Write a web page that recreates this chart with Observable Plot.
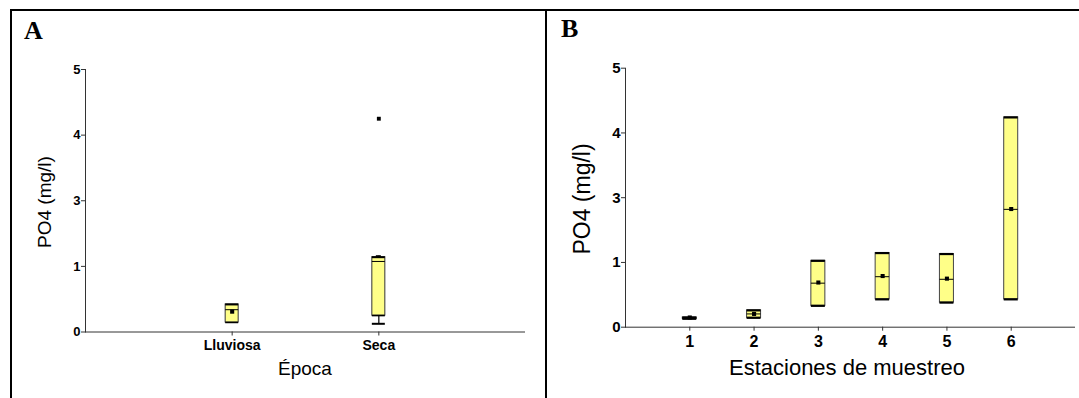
<!DOCTYPE html>
<html>
<head>
<meta charset="utf-8">
<script src="https://cdn.jsdelivr.net/npm/d3@7"></script>
<script src="https://cdn.jsdelivr.net/npm/@observablehq/plot@0.6"></script>
<style>
  html, body { margin: 0; padding: 0; background: #fff; }
  #wrap { position: relative; width: 1079px; height: 398px; overflow: hidden; background: #fff;
          font-family: "Liberation Sans", Arial, sans-serif; color: #000; }
  .frame { position: absolute; left: 10px; top: 9px; width: 1100px; height: 420px;
           border-top: 2px solid #000; border-left: 2px solid #000; }
  .divider { position: absolute; left: 545px; top: 9px; width: 2px; height: 420px; background: #000; }
  .panel { position: absolute; top: 0; }
  .letter { position: absolute; font-family: "Liberation Serif", "Times New Roman", serif; font-weight: bold;
            font-size: 26px; line-height: 1; }
  .t { position: absolute; white-space: nowrap; transform: translate(-50%, -50%); line-height: 1; }
  .rot { transform: translate(-50%, -50%) rotate(-90deg); }
  #err { position: absolute; left: 100px; top: 100px; color: red; font-size: 12px; }
</style>
</head>
<body>
<div id="wrap">
  <div class="frame"></div>
  <div class="divider"></div>
  <div id="pa" class="panel" style="left:0"></div>
  <div id="pb" class="panel" style="left:545px"></div>
  <div class="letter" style="left:24px; top:18px">A</div>
  <div class="letter" style="left:561px; top:16px">B</div>
  <div class="t rot" style="left:44px; top:202px; font-size:19px">PO4 (mg/l)</div>
  <div class="t" style="left:305px; top:368px; font-size:19px">Época</div>
  <div class="t rot" style="left:582px; top:199px; font-size:23px">PO4 (mg/l)</div>
  <div class="t" style="left:847px; top:368px; font-size:22px">Estaciones de muestreo</div>
  <div id="err"></div>
</div>
<script>
// ---------- Data ----------
// Panel A: by season
const epocas = ["Lluviosa", "Seca"];
const aLow    = [0.145, 0.125];   // lower whisker
const aQ1     = [0.145, 0.25];
const aMedian = [0.34, 1.15];
const aQ3     = [0.42, 1.28];
const aHigh   = [0.42, 1.31];     // upper whisker
const aMean   = [0.31, null];
const outlierEpoca = ["Seca"];
const outlierValue = [4.25];

// Panel B: by sampling station (min–max bars, median, mean)
const estaciones = ["1", "2", "3", "4", "5", "6"];
const bMin    = [0.13, 0.145, 0.33, 0.43, 0.38, 0.43];
const bMax    = [0.15, 0.26, 1.05, 1.29, 1.26, 4.24];
const bMedian = [0.14, 0.205, 0.68, 0.78, 0.74, 2.64];
const bMean   = [0.15, 0.205, 0.69, 0.79, 0.75, 2.65];

// y axis labels (broken axis: 0, 1, 3, 4, 5)
const yTicks = [0, 1, 3, 4, 5];

// ---------- Tables ----------
const rowsA = epocas.map((e, i) => ({epoca: e, lo: aLow[i], q1: aQ1[i], med: aMedian[i], q3: aQ3[i], hi: aHigh[i], mean: aMean[i]}));
const outA = outlierEpoca.map((e, i) => ({epoca: e, value: outlierValue[i]}));
const rowsB = estaciones.map((s, i) => ({est: s, min: bMin[i], max: bMax[i], med: bMedian[i], mean: bMean[i]}));

// ---------- Styling ----------
const yellow = "#ffff88";
const axisColor = "#333";
const font = "'Liberation Sans', Arial, sans-serif";
// broken axis: segment 1–3 is compressed to one tick interval
const brk = v => v <= 1 ? v : v <= 3 ? 1 + (v - 1) / 2 : v - 1;
const fmt = d => String(d);

function bandPadding(n, widthPx, boxW) {
  const step = widthPx / (n + 1);
  return {paddingInner: 1 - boxW / step, paddingOuter: 1 - boxW / (2 * step)};
}

try {
// ---------- Panel A ----------
(function () {
  const width = 545, height = 398, mL = 85, mR = 20, mT = 69, mB = 66.5;
  const pad = bandPadding(epocas.length, width - mL - mR, 13);
  const chart = Plot.plot({
    width, height, marginLeft: mL, marginRight: mR, marginTop: mT, marginBottom: mB,
    style: {fontFamily: font, background: "transparent", color: "#000", overflow: "visible"},
    x: {type: "band", domain: epocas, ...pad, round: false, label: null},
    y: {type: "linear", transform: brk, domain: [0, 4], label: null},
    marks: [
      Plot.frame({anchor: "left", stroke: axisColor}),
      Plot.ruleY([0], {stroke: axisColor}),
      Plot.axisY(yTicks, {tickSize: 4, tickPadding: 1, tickFormat: fmt, fontSize: 13, fontWeight: "bold", stroke: axisColor, label: null}),
      Plot.axisX({tickSize: 4, tickPadding: 4, fontSize: 14, fontWeight: "bold", stroke: axisColor, label: null}),
      Plot.ruleX(rowsA.filter(d => d.lo < d.q1), {x: "epoca", y1: "lo", y2: "q1", stroke: "#000", strokeWidth: 1.2}),
      Plot.ruleX(rowsA.filter(d => d.hi > d.q3), {x: "epoca", y1: "q3", y2: "hi", stroke: "#000", strokeWidth: 1.2}),
      Plot.barY(rowsA, {x: "epoca", y1: "q1", y2: "q3", fill: yellow, stroke: "#333", strokeWidth: 1}),
      Plot.tickY(rowsA, {x: "epoca", y: "q3", stroke: "#000", strokeWidth: 2}),
      Plot.tickY(rowsA, {x: "epoca", y: "q1", stroke: "#000", strokeWidth: 1.5}),
      Plot.tickY(rowsA.filter(d => d.lo < d.q1), {x: "epoca", y: "lo", stroke: "#000", strokeWidth: 2}),
      Plot.tickY(rowsA.filter(d => d.hi > d.q3), {x: "epoca", y: "hi", stroke: "#000", strokeWidth: 2, insetLeft: 4, insetRight: 4}),
      Plot.tickY(rowsA, {x: "epoca", y: "med", stroke: "#000", strokeWidth: 1}),
      Plot.dot(rowsA.filter(d => d.mean != null), {x: "epoca", y: "mean", symbol: "square", r: 2.3, fill: "#000"}),
      Plot.dot(outA, {x: "epoca", y: "value", symbol: "square", r: 2.2, fill: "#000"})
    ]
  });
  document.getElementById("pa").appendChild(chart);
})();

// ---------- Panel B ----------
(function () {
  const width = 534, height = 398, mL = 80, mR = 4, mT = 67.7, mB = 71.3;
  const pad = bandPadding(estaciones.length, width - mL - mR, 14);
  const chart = Plot.plot({
    width, height, marginLeft: mL, marginRight: mR, marginTop: mT, marginBottom: mB,
    style: {fontFamily: font, background: "transparent", color: "#000", overflow: "visible"},
    x: {type: "band", domain: estaciones, ...pad, round: false, label: null},
    y: {type: "linear", transform: brk, domain: [0, 4], label: null},
    marks: [
      Plot.frame({anchor: "left", stroke: axisColor}),
      Plot.ruleY([0], {stroke: axisColor}),
      Plot.axisY(yTicks, {tickSize: 4, tickPadding: 1, tickFormat: fmt, fontSize: 15, fontWeight: "bold", stroke: axisColor, label: null}),
      Plot.axisX({tickSize: 4, tickPadding: 4, fontSize: 16, fontWeight: "bold", stroke: axisColor, label: null}),
      Plot.barY(rowsB, {x: "est", y1: "min", y2: "max", fill: yellow, stroke: "#444", strokeWidth: 1}),
      Plot.tickY(rowsB, {x: "est", y: "max", stroke: "#000", strokeWidth: 2.2}),
      Plot.tickY(rowsB, {x: "est", y: "min", stroke: "#000", strokeWidth: 2.2}),
      Plot.tickY(rowsB, {x: "est", y: "med", stroke: "#000", strokeWidth: 1}),
      Plot.dot(rowsB, {x: "est", y: "mean", symbol: "square", r: 2.3, fill: "#000"})
    ]
  });
  document.getElementById("pb").appendChild(chart);
})();
} catch (e) {
  document.getElementById("err").textContent = String(e && e.stack || e);
}
</script>
</body>
</html>
